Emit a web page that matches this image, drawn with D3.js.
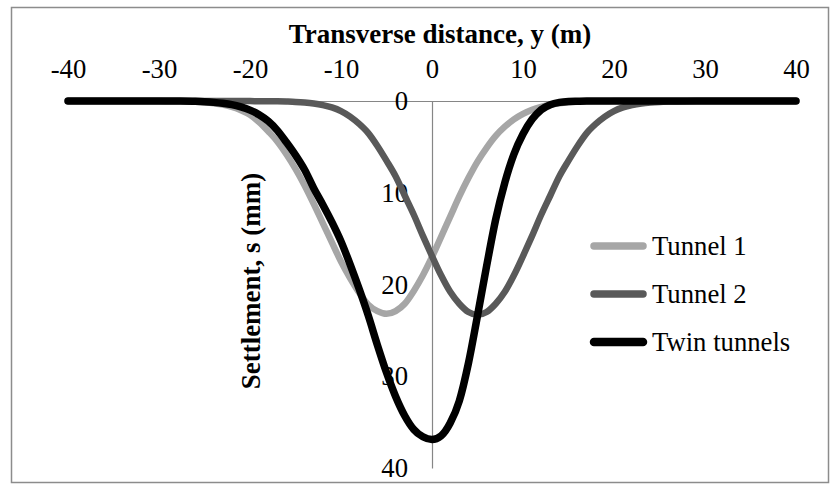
<!DOCTYPE html>
<html>
<head>
<meta charset="utf-8">
<script src="https://cdn.jsdelivr.net/npm/d3@7"></script>
<style>
  body { margin: 0; background: #fff; }
  text { font-family: "Liberation Serif", "Times New Roman", serif; fill: #000; }
</style>
</head>
<body>
<svg id="chart" width="835" height="485"></svg>
<script>
// Transverse distance from the tunnel axis (m)
const distance = [-40, -35, -30, -28, -26,
  -25, -24, -23, -22, -21, -20, -19, -18, -17, -16, -15, -14, -13, -12, -11, -10,
  -9, -8, -7, -6, -5, -4, -3, -2, -1, 0, 1, 2, 3, 4, 5, 6, 7, 8, 9,
  10, 11, 12, 13, 14, 15, 16, 17, 18, 19, 20, 21, 22, 23, 24, 25,
  26, 28, 30, 35, 40];

// Surface settlement (mm)
const tunnel1 = [0, 0, 0.01, 0.03, 0.08,
  0.15, 0.25, 0.4, 0.65, 1.0, 1.5, 2.3, 3.3, 4.4, 5.8, 7.4, 9.2, 11.2, 13.3, 15.4, 17.5,
  19.3, 20.9, 22.2, 22.9, 23.2, 22.9, 22.1, 20.7, 19.0, 17.0, 14.8, 12.6, 10.4, 8.4, 6.6, 5.1, 3.8, 2.8, 2.0,
  1.4, 0.95, 0.63, 0.4, 0.25, 0.15, 0.09, 0.05, 0.03, 0.02, 0.01, 0, 0, 0, 0, 0,
  0, 0, 0, 0, 0];

const tunnel2 = [0, 0, 0, 0, 0,
  0, 0, 0, 0, 0.01, 0.01, 0.02, 0.02, 0.03, 0.06, 0.1, 0.17, 0.28, 0.45, 0.7, 1.1,
  1.7, 2.5, 3.5, 4.9, 6.5, 8.2, 10.3, 12.4, 14.7, 16.9, 19.0, 20.8, 22.1, 23.0, 23.3, 23.0, 22.1, 20.8, 19.0,
  16.9, 14.7, 12.4, 10.3, 8.2, 6.5, 4.9, 3.5, 2.5, 1.7, 1.1, 0.7, 0.45, 0.28, 0.17, 0.1,
  0.06, 0.02, 0.01, 0, 0];

const twinTunnels = [0, 0, 0, 0.01, 0.04,
  0.08, 0.15, 0.25, 0.4, 0.65, 1.0, 1.5, 2.2, 3.2, 4.5, 5.9, 7.5, 9.5, 11.3, 13.2, 15.3,
  17.8, 20.5, 23.4, 26.6, 29.6, 32.2, 34.3, 35.8, 36.6, 36.9, 36.5, 35.1, 32.7, 28.6, 23.4, 18.0, 12.9, 8.9, 5.8,
  3.6, 2.0, 0.95, 0.4, 0.15, 0.05, 0.02, 0, 0, 0, 0, 0, 0, 0, 0, 0,
  0, 0, 0, 0, 0];

const seriesNames = ["Tunnel 1", "Tunnel 2", "Twin tunnels"];
const seriesColors = ["#a6a6a6", "#595959", "#000000"];
const seriesWidths = [6.5, 6.5, 7.5];

const xTicks = [-40, -30, -20, -10, 0, 10, 20, 30, 40];
const yTicks = [0, 10, 20, 30, 40];

const labelSize = "26.7px";
const titleSize = "27px";

const svg = d3.select("#chart");

// chart frame
svg.append("rect")
  .attr("x", 11.5).attr("y", 7.5)
  .attr("width", 817).attr("height", 475)
  .attr("fill", "#fff")
  .attr("stroke", "#8c8c8c")
  .attr("stroke-width", 1.5);

const x = d3.scaleLinear().domain([-40, 40]).range([68, 796]);
const y = d3.scaleLinear().domain([0, 40]).range([101, 468]);

// plain hyphen for negative values
const fmt = d => String(d);

// horizontal axis: labels sit above the zero-settlement line
const xAxis = svg.append("g")
  .attr("transform", `translate(0,${y(0)})`)
  .call(d3.axisTop(x).tickValues(xTicks).tickSize(0).tickSizeOuter(0).tickPadding(23)
    .tickFormat(fmt));
xAxis.select(".domain").attr("stroke", "#868686").attr("stroke-width", 1.2);
xAxis.selectAll("text").style("font-size", labelSize).attr("font-family", null);

// vertical axis through y = 0, settlement increasing downward
const yAxis = svg.append("g")
  .attr("transform", `translate(${x(0)},0)`)
  .call(d3.axisLeft(y).tickValues(yTicks).tickSize(0).tickSizeOuter(0).tickPadding(24)
    .tickFormat(fmt));
yAxis.select(".domain").attr("stroke", "#868686").attr("stroke-width", 1.2);
yAxis.selectAll("text").style("font-size", labelSize).attr("font-family", null);

// axis titles
svg.append("text")
  .attr("x", 440).attr("y", 43)
  .attr("text-anchor", "middle")
  .style("font-size", titleSize).style("font-weight", "bold")
  .text("Transverse distance, y (m)");

svg.append("text")
  .attr("transform", "translate(260,281) rotate(-90)")
  .attr("text-anchor", "middle")
  .style("font-size", titleSize).style("font-weight", "bold")
  .text("Settlement, s (mm)");

// settlement troughs
const series = [tunnel1, tunnel2, twinTunnels];
const line = d3.line()
  .x(d => x(d[0]))
  .y(d => y(d[1]))
  .curve(d3.curveMonotoneX);

series.forEach((vals, i) => {
  svg.append("path")
    .datum(distance.map((dx, j) => [dx, vals[j]]))
    .attr("fill", "none")
    .attr("stroke", seriesColors[i])
    .attr("stroke-width", seriesWidths[i])
    .attr("stroke-linecap", "round")
    .attr("stroke-linejoin", "round")
    .attr("d", line);
});

// legend
const legend = svg.append("g");
seriesNames.forEach((name, i) => {
  const ly = 246 + i * 48;
  legend.append("line")
    .attr("x1", 594).attr("x2", 643)
    .attr("y1", ly).attr("y2", ly)
    .attr("stroke", seriesColors[i])
    .attr("stroke-width", seriesWidths[i] + 1)
    .attr("stroke-linecap", "round");
  legend.append("text")
    .attr("x", 652).attr("y", ly)
    .attr("dy", "0.33em")
    .style("font-size", labelSize)
    .text(name);
});
</script>
</body>
</html>
